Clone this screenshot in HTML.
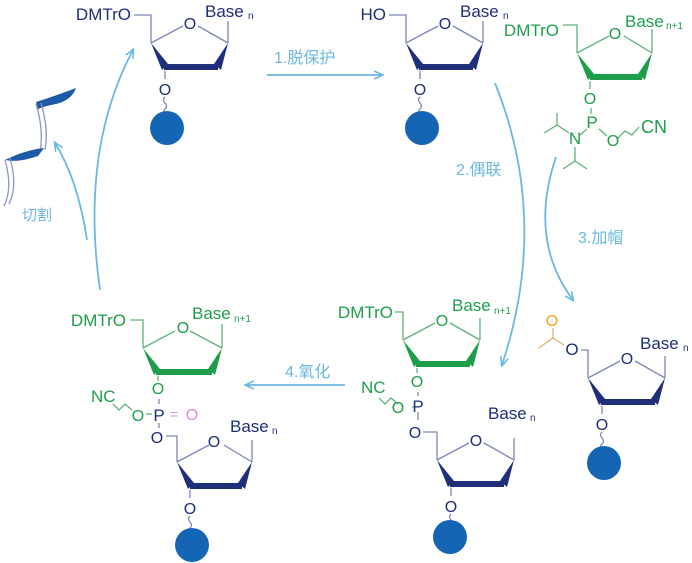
<!DOCTYPE html>
<html><head><meta charset="utf-8"><style>
html,body{margin:0;padding:0;background:#fff}
svg{display:block}
text{font-family:"Liberation Sans","Noto Sans CJK SC",sans-serif}
</style></head><body>
<svg width="692" height="563" viewBox="0 0 692 563" xmlns="http://www.w3.org/2000/svg">
<defs>
<marker id="ah" markerWidth="10" markerHeight="10" refX="8" refY="5" orient="auto" markerUnits="userSpaceOnUse">
<path d="M0,1 L9,5 L0,9" fill="none" stroke="#6cb8e0" stroke-width="1.6"/>
</marker>
</defs>

<g fill="none" stroke="#6cb8e0" stroke-width="1.8">
<path d="M267,75 L382,75" marker-end="url(#ah)"/>
<path d="M495,83 Q550,220 502,365" marker-end="url(#ah)"/>
<path d="M556,157 Q528,240 573,300" marker-end="url(#ah)"/>
<path d="M345,385 L246,385" marker-end="url(#ah)"/>
<path d="M100,290 Q80,150 133,50" marker-end="url(#ah)"/>
<path d="M87,240 Q78,180 55,143" marker-end="url(#ah)"/>
</g>
<g fill="#6cb8e0" font-size="16">
<text x="274" y="63">1.脱保护</text>
<text x="456" y="175">2.偶联</text>
<text x="578" y="243">3.加帽</text>
<text x="285" y="377">4.氧化</text>
<text x="22" y="220" font-size="15">切割</text>
</g>

<!-- ribbon -->
<g>
<path d="M36,102 Q55,96 76,88 Q72,100 56,104 Q45,106 38,109 Z" fill="#1e5aa8"/>
<path d="M36,104 Q44,130 40,152 M41,103 Q49,130 45,150" fill="none" stroke="#8a96c6" stroke-width="1.3"/>
<path d="M44,148 Q25,150 5,160 Q18,163 38,156 Z" fill="#1e5aa8"/>
<path d="M5,160 Q13,188 4,206 M10,158 Q18,186 9,204" fill="none" stroke="#8a96c6" stroke-width="1.3"/>
</g>

<!-- top-left sugar -->
<g transform="translate(151,43)" stroke="#7e86b5" stroke-width="1.3" fill="none">
<path d="M0,0 L32,-17 M47,-17 L77,0 M77,0 L77,-22 M0,0 L0,-28 L-17,-28"/>
<path d="M14,28 L14,36"/>
<path d="M14,54 q-3,3 0,6 q3,3 0,6 q-3,3 0,6" />
</g>
<g transform="translate(151,43)" fill="#1f2f7a">
<polygon points="0,0 17,21 11,27"/>
<rect x="13" y="21" width="54" height="6"/>
<polygon points="77,0 70,27 63,21"/>
<text x="39" y="-14" font-size="16" text-anchor="middle">O</text>
<text x="14" y="52" font-size="16" text-anchor="middle">O</text>
<text x="-20" y="-23" font-size="17" text-anchor="end">DMTrO</text>
<text x="54" y="-26" font-size="17">Base</text><text x="97" y="-24" font-size="10">n</text>
<circle cx="16" cy="85" r="17" fill="#1565b5"/>
</g>

<!-- top-middle sugar -->
<g transform="translate(406,43)" stroke="#7e86b5" stroke-width="1.3" fill="none">
<path d="M0,0 L32,-17 M47,-17 L77,0 M77,0 L77,-22 M0,0 L0,-28 L-17,-28"/>
<path d="M14,28 L14,36"/>
<path d="M14,54 q-3,3 0,6 q3,3 0,6 q-3,3 0,6" />
</g>
<g transform="translate(406,43)" fill="#1f2f7a">
<polygon points="0,0 17,21 11,27"/>
<rect x="13" y="21" width="54" height="6"/>
<polygon points="77,0 70,27 63,21"/>
<text x="39" y="-14" font-size="16" text-anchor="middle">O</text>
<text x="14" y="52" font-size="16" text-anchor="middle">O</text>
<text x="-20" y="-23" font-size="17" text-anchor="end">HO</text>
<text x="54" y="-26" font-size="17">Base</text><text x="97" y="-24" font-size="10">n</text>
<circle cx="16" cy="85" r="17" fill="#1565b5"/>
</g>

<!-- top-right phosphoramidite -->
<g transform="translate(577,53)" stroke="#5fb27a" stroke-width="1.3" fill="none">
<path d="M0,0 L32,-17 M47,-17 L75,0 M75,0 L75,-24 M0,0 L0,-28 L-14,-28"/>
<path d="M13,28 L13,36 M14,55 L14,61 M10,76 L3,82 M22,76 L30,83 M40,86 L48,78 L55,82 L62,74"/>
<path d="M-8,80 L-20,72 L-33,80 M-20,72 L-20,60 M-2,94 L-2,108 L-14,116 M-2,108 L10,116"/>
</g>
<g transform="translate(577,53)" fill="#1e9e4a">
<polygon points="0,0 17,21 11,27"/>
<rect x="13" y="21" width="52" height="6"/>
<polygon points="75,0 68,27 61,21"/>
<text x="38" y="-14" font-size="16" text-anchor="middle">O</text>
<text x="13" y="51" font-size="16" text-anchor="middle">O</text>
<text x="15" y="75" font-size="17" text-anchor="middle">P</text>
<text x="-2" y="91" font-size="17" text-anchor="middle">N</text>
<text x="36" y="93" font-size="16" text-anchor="middle">O</text>
<text x="64" y="80" font-size="18">CN</text>
<text x="-18" y="-17" font-size="17" text-anchor="end">DMTrO</text>
<text x="48" y="-26" font-size="17">Base</text><text x="89" y="-24" font-size="10">n+1</text>
</g>

<!-- capped sugar -->
<g transform="translate(588,378)" stroke="#7e86b5" stroke-width="1.3" fill="none">
<path d="M0,0 L32,-17 M47,-17 L77,0 M77,0 L77,-22 M0,0 L0,-28 L-7,-28"/>
<path d="M14,28 L14,36"/>
<path d="M14,54 q-3,3 0,6 q3,3 0,6 q-3,3 0,6" />
</g>
<path d="M564,345 L553,338 L539,348 M553,338 L553,328" stroke="#d9b36a" stroke-width="1.3" fill="none"/>
<text x="552" y="326" font-size="16" fill="#f0a020" text-anchor="middle">O</text>
<g transform="translate(588,378)" fill="#1f2f7a">
<polygon points="0,0 17,21 11,27"/>
<rect x="13" y="21" width="54" height="6"/>
<polygon points="77,0 70,27 63,21"/>
<text x="39" y="-14" font-size="16" text-anchor="middle">O</text>
<text x="14" y="52" font-size="16" text-anchor="middle">O</text>
<text x="-16" y="-23" font-size="17" text-anchor="middle">O</text>
<text x="52" y="-29" font-size="17">Base</text><text x="95" y="-27" font-size="10">n</text>
<circle cx="16" cy="85" r="17" fill="#1565b5"/>
</g>

<!-- bottom-middle dimer -->
<g transform="translate(403,340)" stroke="#5fb27a" stroke-width="1.3" fill="none">
<path d="M0,0 L32,-17 M47,-17 L77,0 M77,0 L77,-22 M0,0 L0,-28 L-8,-28"/>
<path d="M14,28 L14,33 M-5,64 L-12,58 L-18,64 L-24,58 M9,67 L12,67"/>
</g>
<g transform="translate(403,340)" fill="#1e9e4a">
<polygon points="0,0 17,21 11,27"/>
<rect x="13" y="21" width="54" height="6"/>
<polygon points="77,0 70,27 63,21"/>
<text x="39" y="-14" font-size="16" text-anchor="middle">O</text>
<text x="14" y="47" font-size="16" text-anchor="middle">O</text>
<text x="-5" y="73" font-size="16" text-anchor="middle">O</text>
<text x="-42" y="53" font-size="17">NC</text>
<text x="-10" y="-22" font-size="17" text-anchor="end">DMTrO</text>
<text x="49" y="-29" font-size="17">Base</text><text x="91" y="-26" font-size="10">n+1</text>
</g>
<path d="M418,392 L418,396 M418,412 L418,420" stroke="#7e86b5" stroke-width="1.3"/>
<text x="418" y="412" font-size="17" fill="#1f2f7a" text-anchor="middle">P</text>
<g transform="translate(437,460)" stroke="#7e86b5" stroke-width="1.3" fill="none">
<path d="M0,0 L32,-17 M47,-17 L77,0 M77,0 L77,-22 M0,0 L0,-28 L-14,-28"/>
<path d="M14,28 L14,36"/>
<path d="M14,54 q-3,3 0,6 q3,3 0,6 q-3,3 0,6" />
</g>
<g transform="translate(437,460)" fill="#1f2f7a">
<polygon points="0,0 17,21 11,27"/>
<rect x="13" y="21" width="54" height="6"/>
<polygon points="77,0 70,27 63,21"/>
<text x="39" y="-14" font-size="16" text-anchor="middle">O</text>
<text x="14" y="52" font-size="16" text-anchor="middle">O</text>
<text x="-22" y="-22" font-size="16" text-anchor="middle">O</text>
<text x="51" y="-41" font-size="17">Base</text><text x="93" y="-39" font-size="10">n</text>
<circle cx="13" cy="77" r="17" fill="#1565b5"/>
</g>

<!-- bottom-left dimer -->
<g transform="translate(143,348)" stroke="#5fb27a" stroke-width="1.3" fill="none">
<path d="M0,0 L32,-17 M47,-17 L79,0 M79,0 L79,-24 M0,0 L0,-28 L-13,-28"/>
<path d="M15,28 L15,33 M-11,62 L-18,56 L-24,62 L-30,56 M3,66 L9,66"/>
</g>
<g transform="translate(143,348)" fill="#1e9e4a">
<polygon points="0,0 17,21 11,27"/>
<rect x="13" y="21" width="56" height="6"/>
<polygon points="79,0 72,27 65,21"/>
<text x="40" y="-15" font-size="16" text-anchor="middle">O</text>
<text x="15" y="46" font-size="16" text-anchor="middle">O</text>
<text x="-5" y="73" font-size="16" text-anchor="middle">O</text>
<text x="-52" y="54" font-size="17">NC</text>
<text x="-17" y="-22" font-size="17" text-anchor="end">DMTrO</text>
<text x="49" y="-29" font-size="17">Base</text><text x="91" y="-26" font-size="10">n+1</text>
</g>
<text x="159" y="421" font-size="17" fill="#1f2f7a" text-anchor="middle">P</text>
<text x="170" y="419" font-size="14" fill="#e38ad8">=</text>
<text x="192" y="420" font-size="16" fill="#e38ad8" text-anchor="middle">O</text>
<path d="M159,399 L159,404 M159,423 L159,428" stroke="#7e86b5" stroke-width="1.3"/>
<g transform="translate(177,462)" stroke="#7e86b5" stroke-width="1.3" fill="none">
<path d="M0,0 L32,-17 M47,-17 L75,0 M75,0 L75,-22 M0,0 L0,-26 L-11,-26"/>
<path d="M13,28 L13,36"/>
<path d="M13,54 q-3,3 0,6 q3,3 0,6 q-3,3 0,6" />
</g>
<g transform="translate(177,462)" fill="#1f2f7a">
<polygon points="0,0 17,21 11,27"/>
<rect x="13" y="21" width="52" height="6"/>
<polygon points="75,0 68,27 61,21"/>
<text x="37" y="-15" font-size="16" text-anchor="middle">O</text>
<text x="13" y="52" font-size="16" text-anchor="middle">O</text>
<text x="-20" y="-19" font-size="16" text-anchor="middle">O</text>
<text x="53" y="-30" font-size="17">Base</text><text x="95" y="-28" font-size="10">n</text>
<circle cx="15" cy="83" r="17" fill="#1565b5"/>
</g>
</svg>
</body></html>
